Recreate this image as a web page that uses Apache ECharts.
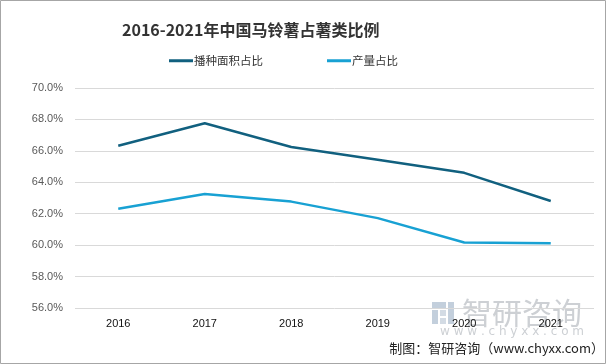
<!DOCTYPE html>
<html><head><meta charset="utf-8">
<script src="https://cdn.jsdelivr.net/npm/echarts@6/dist/echarts.min.js"></script>
<style>html,body{margin:0;padding:0;background:#fff}#c{width:606px;height:364px}</style>
</head><body><div id="c"></div>
<script>
const categories = ['2016','2017','2018','2019','2020','2021'];
const areaShare = [66.32, 67.76, 66.25, 65.44, 64.6, 62.81];
const outputShare = [62.32, 63.25, 62.77, 61.72, 60.17, 60.12];
const seriesNames = ['播种面积占比','产量占比'];
const titleText = '2016-2021年中国马铃薯占薯类比例';
const sourceText = '制图：智研咨询（www.chyxx.com）';

const chart = echarts.init(document.getElementById('c'), null, {renderer:'canvas'});
chart.setOption({
  backgroundColor:'#fff',
  animation:false,
  title:{text:titleText,left:117,top:17,textStyle:{fontSize:16,fontWeight:'bold',color:'#333',fontFamily:'"Noto Sans CJK SC", sans-serif'}},
  legend:{left:164,top:50,itemWidth:24,itemHeight:3,itemGap:64,icon:'rect',
    textStyle:{fontSize:11.5,color:'#333',fontFamily:'"Noto Sans CJK SC", sans-serif',padding:[0,0,0,-4]},
    data:seriesNames},
  grid:{left:75,right:12,top:88,bottom:56,containLabel:false},
  xAxis:{type:'category',data:categories,boundaryGap:true,
    axisLine:{show:false},axisTick:{show:false},
    axisLabel:{color:'#111',fontSize:11,margin:10,fontFamily:'"Liberation Sans", sans-serif'}},
  yAxis:{type:'value',min:56,max:70,interval:2,
    axisLine:{show:false},axisTick:{show:false},
    splitLine:{lineStyle:{color:'#d9d9d9',width:1}},
    axisLabel:{color:'#595959',fontSize:11,margin:12,formatter:v=>v.toFixed(1)+'%',fontFamily:'"Liberation Sans", sans-serif'}},
  series:[
    {name:seriesNames[0],type:'line',data:areaShare,showSymbol:false,symbol:'none',
     lineStyle:{color:'#11607f',width:2.5},itemStyle:{color:'#11607f'}},
    {name:seriesNames[1],type:'line',data:outputShare,showSymbol:false,symbol:'none',
     lineStyle:{color:'#18a1d3',width:2.5},itemStyle:{color:'#18a1d3'}}
  ],
  graphic:[
    {type:'rect',shape:{x:0.5,y:0.5,width:605,height:363},style:{fill:'none',stroke:'#a6a6a6',lineWidth:1},silent:true,z:100},
    {type:'group',left:432,top:302,silent:true,z:-1,children:[
      {type:'rect',shape:{x:0,y:0,width:14,height:6},style:{fill:'#c3cfdc'}},
      {type:'rect',shape:{x:0,y:8,width:6,height:14},style:{fill:'#c3cfdc'}},
      {type:'rect',shape:{x:8,y:8,width:6,height:6},style:{fill:'#d3dbe4'}},
      {type:'rect',shape:{x:16,y:0,width:6,height:22},style:{fill:'#c3cfdc'}},
      {type:'rect',shape:{x:8,y:16,width:6,height:6},style:{fill:'#d3dbe4'}}
    ]},
    {type:'text',left:462,top:298,silent:true,z:-1,style:{text:'智研咨询',fill:'#cdd0d4',font:'30px "Noto Sans CJK SC", sans-serif'}},
    {type:'text',left:440,top:326,silent:true,z:-1,style:{text:'w w w . c h y x x . c o m',fill:'#cdd0d4',font:'12px "DejaVu Sans", sans-serif'}},
    {type:'text',right:2,top:342,silent:true,style:{text:sourceText,fill:'#222',font:'13px "Noto Sans CJK SC", sans-serif'}}
  ]
});
</script></body></html>
